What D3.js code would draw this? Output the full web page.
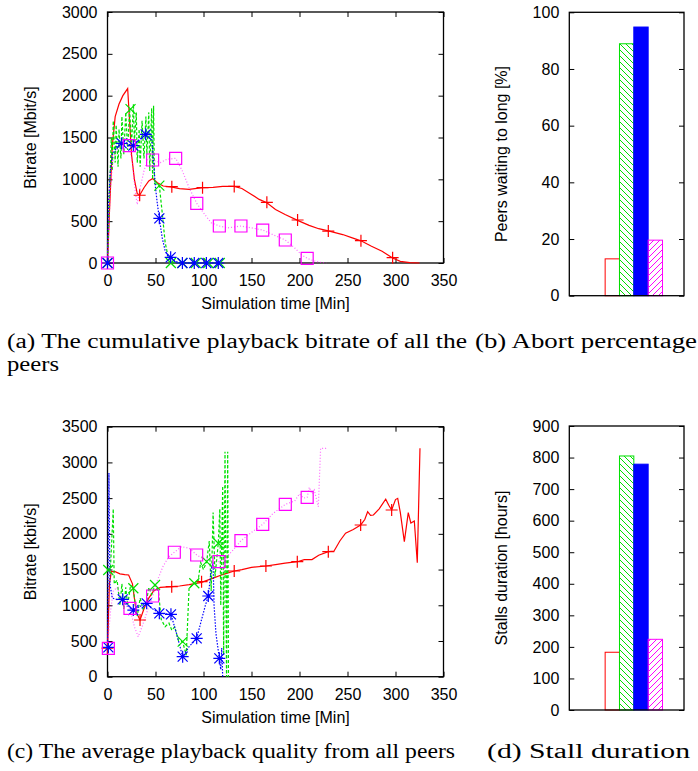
<!DOCTYPE html>
<html>
<head>
<meta charset="utf-8">
<script src="https://cdn.jsdelivr.net/npm/d3@7"></script>
<style>
body { margin: 0; background: #fff; }
svg text { font-family: "Liberation Sans", Arial, Helvetica, sans-serif; fill: #000; }
svg text.cap { font-family: "Liberation Serif", "Times New Roman", serif; }
</style>
</head>
<body>
<script>
// (a) cumulative playback bitrate [Mbit/s] over simulation time [min]
var cumRed = [[0,0],[2,600],[5,1400],[8,1750],[12,1900],[16,2000],[21,2085],[23,1700],[25,1300],[28,1000],[31,830],[33.5,810],[38,900],[43,980],[47,1010],[52,960],[58,920],[66,910],[75,890],[85,880],[99,900],[110,905],[120,915],[132,915],[140,890],[150,820],[158,760],[166,720],[175,640],[185,580],[198,510],[210,450],[220,410],[231,380],[245,340],[255,300],[264,265],[275,200],[286,140],[297,60],[305,20],[315,5],[325,0]];
var cumRedMarks = [[0,0],[33.5,810],[67,912],[99,900],[132,915],[166,725],[198,514],[230,382],[264,267],[297,64]];
var cumGreen = [[0,0],[2,800],[4,1500],[5,1100],[6,1700],[8,1200],[9,1650],[11,1150],[12,1600],[14,1250],[15,1750],[17,1300],[19,1800],[21,1350],[23,1850],[25,1400],[27,1900],[28,1450],[30,1800],[31,1200],[33,1600],[34,1150],[36,1700],[38,1250],[40,1750],[41,1300],[43,1800],[44,1100],[46,1850],[47,1000],[48,1880],[49,950],[54,924],[57,600],[60,250],[63,80],[66,20],[70,0],[120,0]];
var cumGreenMarks = [[0,0],[24,1840],[54,924],[66,0],[78,0],[92,0],[105,0],[117,0]];
var cumBlue = [[0,0],[1,700],[3,1100],[5,1300],[8,1350],[10,1400],[14.8,1430],[18,1450],[22,1420],[26.9,1400],[30,1450],[34,1480],[37,1520],[39.8,1538],[43,1560],[46,1500],[48,1200],[50,900],[52,700],[54,534],[57,300],[60,150],[63,80],[65.8,68],[70,20],[78,0],[115,0]];
var cumBlueMarks = [[0,0],[14.8,1430],[26.9,1402],[39.8,1538],[54,534],[65.8,68],[78,0],[90.4,0],[103,0],[115.4,0]];
var cumMagenta = [[0,0],[3,900],[6,1250],[10,1350],[15,1420],[20,1420],[22.7,1402],[26,1200],[29,850],[31,700],[34,900],[38,1100],[42,1250],[47,1231],[55,1200],[62,1240],[71,1251],[78,1100],[85,900],[93,713],[100,600],[108,480],[116.5,442],[125,420],[132,430],[139,442],[150,420],[161.7,394],[172,340],[185.2,275],[195,180],[202,100],[208,56],[215,25],[222,8],[228,0]];
var cumMagentaMarks = [[0,0],[22.7,1402],[47,1231],[71,1251],[93,713],[116.5,442],[139,442],[161.7,394],[185.2,275],[208,56]];

// (c) average playback quality [kbit/s]
var avgRed = [[0,400],[2,1300],[4,1470],[8,1470],[13,1440],[18,1430],[22,1424],[26,1300],[30,900],[33.9,794],[38,950],[43,1100],[48,1200],[55,1250],[66.9,1260],[75,1270],[85,1290],[98,1320],[110,1380],[120,1430],[132,1480],[140,1500],[150,1530],[165,1550],[175,1570],[185,1590],[197.7,1610],[205,1640],[213,1640],[220,1700],[230,1750],[236,1760],[242,1900],[248,2010],[256,2060],[263.7,2124],[268,2200],[271,2310],[274,2260],[277,2264],[283,2350],[289.8,2484],[293,2400],[296,2334],[300,2480],[302.3,2497],[305,2300],[309.2,1890],[313.3,2296],[316,2150],[319.6,2180],[322.7,1596],[325.5,3197]];
var avgRedMarks = [[0,400],[33.9,794],[66.9,1260],[98,1330],[132,1480],[165,1550],[197.7,1610],[230,1750],[263.7,2124],[296,2334]];
var avgGreen = [[0,1494],[3,1500],[6,2350],[7,1300],[10,1350],[13,1000],[15,1300],[17,950],[19,1250],[21,1000],[24,1280],[26.9,1238],[29,1000],[31,850],[34,1100],[37,950],[40,1000],[43,1250],[46,1150],[49.5,1284],[53,1200],[56,800],[60,700],[64,750],[67,650],[70,700],[74,500],[78.3,490],[82,300],[85,1250],[88,1280],[90.4,1308],[94,1300],[97,1600],[100,1500],[103.3,1610],[106,1900],[108,1200],[110,2300],[112,1400],[115.4,1868],[117,2348],[118,1000],[120,2670],[121,300],[122.4,3150],[124,0],[125.2,3150],[126,0]];
var avgGreenMarks = [[0.8,1494],[26.9,1238],[49.5,1284],[78.3,490],[90.4,1308],[103.3,1610],[115.4,1868]];
var avgBlue = [[0,411],[1.5,2850],[2.5,1300],[5,1100],[10,1080],[15.8,1083],[20,1000],[26.9,933],[33,980],[40.8,1027],[47,950],[54,887],[60,880],[66.1,873],[72,600],[78.3,280],[85,420],[92.9,537],[98,800],[102,1000],[105,1130],[108,1500],[110,1600],[111,1000],[113,600],[116.5,257],[118,100],[119,400],[120,0]];
var avgBlueMarks = [[0.9,411],[15.8,1083],[26.9,933],[40.8,1027],[54,887],[66.1,873],[78.3,280],[92.9,537],[105,1130],[116.5,257]];
var avgMagenta = [[0,397],[3,900],[6,1200],[10,1250],[14,1100],[18,1000],[23.4,957],[28,700],[32,560],[36,700],[41,900],[47,1130],[52,1350],[58,1550],[64,1680],[69.6,1742],[77,1820],[85,1800],[92.9,1704],[100,1650],[108,1620],[116.1,1610],[122,1650],[130,1760],[139,1904],[150,2020],[161.7,2133],[172,2280],[185.2,2413],[195,2460],[200,2560],[204,2500],[208,2511],[210.2,2651],[213,2560],[215.4,2614],[219.6,2380],[222,3197],[228.3,3197]];
var avgMagentaMarks = [[0.9,397],[23.4,957],[47,1130],[69.6,1742],[92.9,1704],[116.1,1610],[139,1904],[161.7,2133],[185.2,2413],[208,2511]];

// (b) and (d) bars: red, green, blue, magenta
var abortPct = [13, 88.9, 94.8, 19.6];
var stallHours = [183, 805, 779, 224];

var xTicks = [0, 50, 100, 150, 200, 250, 300, 350];

var svg = d3.select("body").append("svg")
            .attr("width", 698)
            .attr("height", 771);

var defs = svg.append("defs");
defs.append("pattern").attr("id", "hatchGreen")
    .attr("patternUnits", "userSpaceOnUse").attr("width", 6).attr("height", 6)
    .append("path").attr("d", "M0,0L6,6M-1,5L1,7M5,-1L7,1")
    .attr("stroke", "#00e000").attr("stroke-width", 1);
defs.append("pattern").attr("id", "hatchMagenta")
    .attr("patternUnits", "userSpaceOnUse").attr("width", 6).attr("height", 6)
    .append("path").attr("d", "M0,6L6,0M-1,1L1,-1M5,7L7,5")
    .attr("stroke", "#ff00ff").attr("stroke-width", 1);

// marker shapes
function markPath(type){
	if (type == "plus") return "M-6,0H6M0,-6V6";
	if (type == "cross") return "M-5,-5L5,5M-5,5L5,-5";
	if (type == "star") return "M-6,0H6M0,-6V6M-5,-5L5,5M-5,5L5,-5";
	return "M-6,-6H6V6H-6Z";
}

// Frame with gnuplot-like inward ticks on all sides
function frame(g, x, y, yTicks, xTickVals){
	g.append("g").attr("transform", "translate(" + x.range()[0] + ",0)")
	  .call(d3.axisLeft(y).tickValues(yTicks).tickFormat(d3.format("d")).tickSizeInner(-5).tickSizeOuter(0).tickPadding(10));
	g.append("g").attr("transform", "translate(" + x.range()[1] + ",0)")
	  .call(d3.axisRight(y).tickValues(yTicks).tickSizeInner(-5).tickSizeOuter(0).tickFormat(""));
	if (xTickVals) {
		g.append("g").attr("transform", "translate(0," + y.range()[0] + ")")
		  .call(d3.axisBottom(x).tickValues(xTickVals).tickFormat(d3.format("d")).tickSizeInner(-5).tickSizeOuter(0).tickPadding(12));
		g.append("g").attr("transform", "translate(0," + y.range()[1] + ")")
		  .call(d3.axisTop(x).tickValues(xTickVals).tickSizeInner(-5).tickSizeOuter(0).tickFormat(""));
	}
	g.selectAll(".domain").remove();
	g.selectAll(".tick line").attr("stroke", "#000").attr("stroke-width", 1);
	g.selectAll(".tick text").attr("font-size", 16);
	g.append("rect")
	 .attr("x", x.range()[0]).attr("y", y.range()[1])
	 .attr("width", x.range()[1] - x.range()[0]).attr("height", y.range()[0] - y.range()[1])
	 .attr("fill", "none").attr("stroke", "#000").attr("stroke-width", 1.3);
}

function yLabel(g, xPos, y, txt){
	var yc = (y.range()[0] + y.range()[1]) / 2;
	g.append("text").attr("transform", "translate(" + xPos + "," + yc + ") rotate(-90)")
	 .attr("text-anchor", "middle").attr("dominant-baseline", "central")
	 .attr("font-size", 16).text(txt);
}

// Line panel: (a) and (c)
function linePanel(top, bottom, yMax, yStep, series, ylab){
	var g = svg.append("g");
	var x = d3.scaleLinear().domain([0, 350]).range([107.5, 443.5]);
	var y = d3.scaleLinear().domain([0, yMax]).range([bottom, top]);
	frame(g, x, y, d3.range(0, yMax + 1, yStep), xTicks);
	var line = d3.line().x(function(d){ return x(d[0]); }).y(function(d){ return y(d[1]); });
	series.forEach(function(s){
		g.append("path").datum(s.data)
		 .attr("d", line).attr("fill", "none")
		 .attr("stroke", s.color).attr("stroke-width", s.width)
		 .attr("stroke-dasharray", s.dash).attr("stroke-opacity", s.opacity);
	});
	series.forEach(function(s){
		g.selectAll(null).data(s.marks).enter().append("path")
		 .attr("transform", function(d){ return "translate(" + x(d[0]) + "," + y(d[1]) + ")"; })
		 .attr("d", markPath(s.mark)).attr("fill", "none")
		 .attr("stroke", s.markColor).attr("stroke-width", 1.2);
	});
	yLabel(g, 30, y, ylab);
	g.append("text").attr("x", (x.range()[0] + x.range()[1]) / 2).attr("y", bottom + 46)
	 .attr("text-anchor", "middle").attr("font-size", 16).text("Simulation time [Min]");
}

// Bar panel: (b) and (d)
var barFills = ["none", "url(#hatchGreen)", "#0000ff", "url(#hatchMagenta)"];
var barStrokes = ["#ff0000", "#00e000", "#0000ff", "#ff00ff"];
function barPanel(top, bottom, yMax, yStep, values, ylab){
	var g = svg.append("g");
	var x = d3.scaleLinear().domain([-1, 1]).range([569.3, 684]);
	var y = d3.scaleLinear().domain([0, yMax]).range([bottom, top]);
	g.selectAll("rect.bar").data(values).enter().append("rect")
	 .attr("class", "bar")
	 .attr("x", function(d, i){ return x(-0.375 + i * 0.25); })
	 .attr("width", x(0.25) - x(0))
	 .attr("y", function(d){ return y(d); })
	 .attr("height", function(d){ return y(0) - y(d); })
	 .attr("fill", function(d, i){ return barFills[i]; })
	 .attr("stroke", function(d, i){ return barStrokes[i]; })
	 .attr("stroke-width", 1);
	frame(g, x, y, d3.range(0, yMax + 1, yStep), null);
	yLabel(g, 501.7, y, ylab);
}

linePanel(12, 263, 3000, 500, [
	{data: cumRed, marks: cumRedMarks, mark: "plus", color: "#ff0000", markColor: "#ff0000", width: 1.2, dash: null, opacity: 1},
	{data: cumGreen, marks: cumGreenMarks, mark: "cross", color: "#00e000", markColor: "#00e000", width: 1.2, dash: "3,2", opacity: 1},
	{data: cumBlue, marks: cumBlueMarks, mark: "star", color: "#0000ff", markColor: "#0000ff", width: 1.2, dash: "1.5,1.5", opacity: 1},
	{data: cumMagenta, marks: cumMagentaMarks, mark: "square", color: "#ff00ff", markColor: "#ff00ff", width: 1.2, dash: "1,2", opacity: 0.6}
], "Bitrate [Mbit/s]");

linePanel(426.7, 676.7, 3500, 500, [
	{data: avgRed, marks: avgRedMarks, mark: "plus", color: "#ff0000", markColor: "#ff0000", width: 1.2, dash: null, opacity: 1},
	{data: avgGreen, marks: avgGreenMarks, mark: "cross", color: "#00e000", markColor: "#00e000", width: 1.2, dash: "3,2", opacity: 1},
	{data: avgBlue, marks: avgBlueMarks, mark: "star", color: "#0000ff", markColor: "#0000ff", width: 1.2, dash: "1.5,1.5", opacity: 1},
	{data: avgMagenta, marks: avgMagentaMarks, mark: "square", color: "#ff00ff", markColor: "#ff00ff", width: 1.2, dash: "1,2", opacity: 0.6}
], "Bitrate [kbit/s]");

barPanel(12.3, 295.7, 100, 20, abortPct, "Peers waiting to long [%]");
barPanel(426, 710, 900, 100, stallHours, "Stalls duration [hours]");

// Captions
var captions = [
	{t: "(a) The cumulative playback bitrate of all the", x: 7, y: 348, w: 460},
	{t: "peers", x: 7, y: 371, w: 52},
	{t: "(b) Abort percentage", x: 475, y: 348, w: 222},
	{t: "(c) The average playback quality from all peers", x: 7, y: 758, w: 448},
	{t: "(d) Stall duration", x: 487, y: 758, w: 203}
];
svg.selectAll("text.cap").data(captions).enter().append("text")
   .attr("class", "cap")
   .attr("x", function(d){ return d.x; }).attr("y", function(d){ return d.y; })
   .attr("font-size", 20)
   .attr("textLength", function(d){ return d.w; })
   .attr("lengthAdjust", "spacingAndGlyphs")
   .text(function(d){ return d.t; });
</script>
</body>
</html>
